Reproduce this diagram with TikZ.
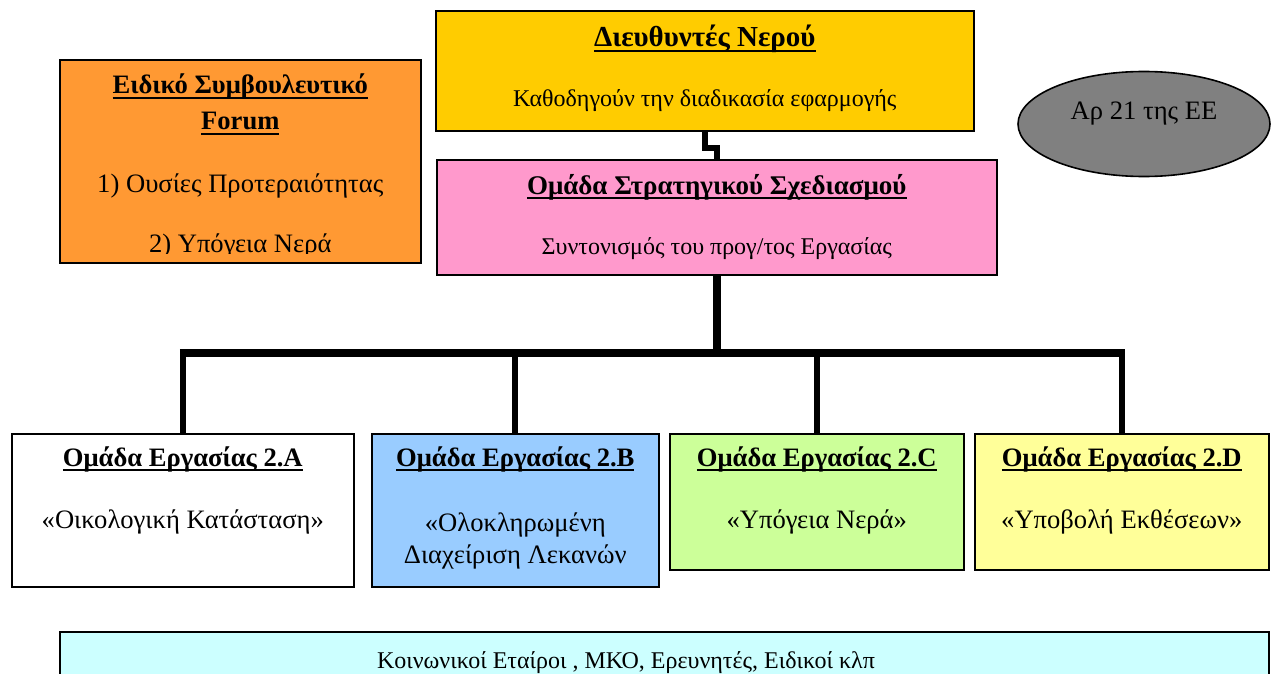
\documentclass[tikz,border=0pt]{standalone}
\usepackage{fontspec}
\setmainfont{Liberation Serif}
\usetikzlibrary{shapes.geometric}
\definecolor{cyel}{HTML}{FFCC00}
\definecolor{corg}{HTML}{FF9933}
\definecolor{cpink}{HTML}{FF99CC}
\definecolor{cblue}{HTML}{99CCFF}
\definecolor{cgreen}{HTML}{CCFF99}
\definecolor{clyel}{HTML}{FFFF99}
\definecolor{ccyan}{HTML}{CCFFFF}
\definecolor{cgray}{HTML}{808080}
\newcommand\ulbold[1]{\setbox0=\hbox{\bfseries #1}\rlap{\rule[-5.2pt]{\wd0}{2pt}}\box0}
\begin{document}
\begin{tikzpicture}[x=1pt,y=-1pt,
  box/.style={draw=black,line width=1.6pt,inner sep=0pt,anchor=north west},
  txt/.style={anchor=base,inner sep=0pt,font=\fontsize{26.6}{30}\selectfont},
  txts/.style={anchor=base,inner sep=0pt,font=\fontsize{24}{28}\selectfont},
  conn/.style={line width=6pt,line join=miter,line cap=butt}]
\useasboundingbox (0,0) rectangle (1271,674);
% boxes
\node[box,fill=cyel,minimum width=538,minimum height=120] (dir) at (435,10) {};
\node[box,fill=corg,minimum width=361,minimum height=203] (forum) at (59,59) {};
\node[box,fill=cpink,minimum width=560,minimum height=115] (strat) at (436,159) {};
\node[draw=black,line width=1.6pt,fill=cgray,ellipse,minimum width=252,minimum height=105,inner sep=0pt] (ap) at (1144,124) {};
\node[box,fill=white,minimum width=342,minimum height=153] (wa) at (11,433) {};
\node[box,fill=cblue,minimum width=287,minimum height=153] (wb) at (371,433) {};
\node[box,fill=cgreen,minimum width=294,minimum height=136] (wc) at (669,433) {};
\node[box,fill=clyel,minimum width=294,minimum height=136] (wd) at (974,433) {};
\node[box,fill=ccyan,minimum width=1209,minimum height=60] (soc) at (59,631) {};
% connectors
\draw[conn] (dir.south) -- ++(0,16) -| (strat.north);
\coordinate (bus) at (strat.south |- 0,353);
\draw[line width=8pt] (strat.south) -- ([yshift=4]bus);
\draw[line width=6pt] (wa.north) -- (wa.north |- bus);
\draw[line width=6pt] (wb.north) -- (wb.north |- bus);
\draw[line width=6pt] (wc.north) -- (wc.north |- bus);
\draw[line width=6pt] (wd.north) -- (wd.north |- bus);
\draw[line width=8pt] ([xshift=-3pt]wa.north |- bus) -- ([xshift=3pt]wd.north |- bus);
% texts
\node[txt,font=\fontsize{29}{32}\selectfont] (dirT) at (dir.center |- 0,47) {\ulbold{Διευθυντές Νερού}};
\node[txts] (dirS) at (dir.center |- 0,107) {Καθοδηγούν την διαδικασία εφαρμογής};
\node[txt] (forT1) at (forum.center |- 0,94) {\ulbold{Ειδικό Συμβουλευτικό}};
\node[txt] (forT2) at (forum.center |- 0,130) {\ulbold{Forum}};
\node[txt] (forS1) at (forum.center |- 0,192) {1) Ουσίες Προτεραιότητας};
\begin{scope}
\clip (60,60) rectangle (419,253);
\node[txt] (forS2) at (forum.center |- 0,252) {2) Υπόγεια Νερά};
\end{scope}
\node[txt] (apT) at (ap.center |- 0,120) {Αρ 21 της ΕΕ};
\node[txt,font=\fontsize{27}{30}\selectfont] (strT) at (strat.center |- 0,194) {\ulbold{Ομάδα Στρατηγικού Σχεδιασμού}};
\node[txts] (strS) at (strat.center |- 0,254) {Συντονισμός του προγ/τος Εργασίας};
\node[txt] (waT) at (wa.center |- 0,466) {\ulbold{Ομάδα Εργασίας 2.Α}};
\node[txt] (waS) at (wa.center |- 0,528) {«Οικολογική Κατάσταση»};
\node[txt] (wbT) at (wb.center |- 0,466) {\ulbold{Ομάδα Εργασίας 2.Β}};
\node[txt] (wbS1) at (wb.center |- 0,531) {«Ολοκληρωμένη};
\node[txt] (wbS2) at (wb.center |- 0,563) {Διαχείριση Λεκανών};
\node[txt] (wcT) at (wc.center |- 0,466) {\ulbold{Ομάδα Εργασίας 2.C}};
\node[txt] (wcS) at (wc.center |- 0,528) {«Υπόγεια Νερά»};
\node[txt] (wdT) at (wd.center |- 0,466) {\ulbold{Ομάδα Εργασίας 2.D}};
\node[txt] (wdS) at (wd.center |- 0,528) {«Υποβολή Εκθέσεων»};
\node[txts] (socT) at (626,668) {Κοινωνικοί Εταίροι , ΜΚΟ, Ερευνητές, Ειδικοί κλπ};
\end{tikzpicture}
\end{document}
